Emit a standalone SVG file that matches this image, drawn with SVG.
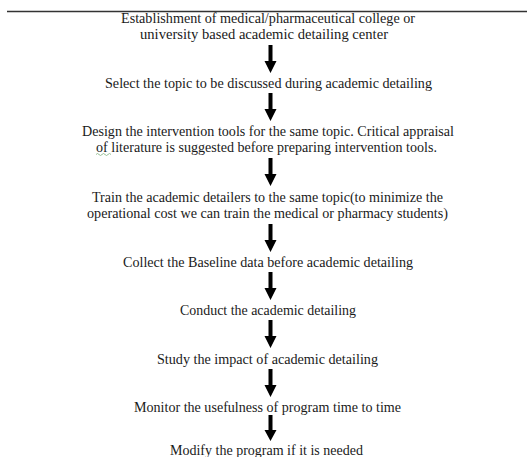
<svg xmlns="http://www.w3.org/2000/svg" width="527" height="457" viewBox="0 0 527 457">
<defs>
<style>
.t{font-family:"Liberation Serif","Times New Roman",serif;font-size:13.6px;fill:#1a1a1a;text-anchor:middle}
.a{fill:#000}
</style>
<path id="arr" d="M-2,0 H2 V16 H6 L0,28 L-6,16 H-2 Z"/>
</defs>
<rect width="527" height="457" fill="#fff"/>
<line x1="7" y1="11.5" x2="527" y2="11.5" stroke="#333" stroke-width="1.3"/>
<g id="n1"><text class="t" x="268" y="22.5" textLength="294" lengthAdjust="spacingAndGlyphs">Establishment of medical/pharmaceutical college or</text><text class="t" x="264" y="38.5" textLength="248" lengthAdjust="spacingAndGlyphs">university based academic detailing center</text></g>
<g id="n2"><text class="t" x="268.5" y="87.5" textLength="327" lengthAdjust="spacingAndGlyphs">Select the topic to be discussed during academic detailing</text></g>
<g id="n3"><text class="t" x="268" y="135.5" textLength="372" lengthAdjust="spacingAndGlyphs">Design the intervention tools for the same topic. Critical appraisal</text><text class="t" x="266.5" y="151.5" textLength="341" lengthAdjust="spacingAndGlyphs">of literature is suggested before preparing intervention tools.</text><path d="M96,154.5 q1.5,-2 3,0 t3,0 t3,0 t3,0 t3,0" fill="none" stroke="#7fb07f" stroke-width="0.8"/></g>
<g id="n4"><text class="t" x="267.5" y="201.5" textLength="351" lengthAdjust="spacingAndGlyphs">Train the academic detailers to the same topic(to minimize the</text><text class="t" x="267.5" y="217.5" textLength="361" lengthAdjust="spacingAndGlyphs">operational cost we can train the medical or pharmacy students)</text></g>
<g id="n5"><text class="t" x="268" y="266.5" textLength="290" lengthAdjust="spacingAndGlyphs">Collect the Baseline data before academic detailing</text></g>
<g id="n6"><text class="t" x="268" y="314.5" textLength="176" lengthAdjust="spacingAndGlyphs">Conduct the academic detailing</text></g>
<g id="n7"><text class="t" x="267.5" y="363.5" textLength="221" lengthAdjust="spacingAndGlyphs">Study the impact of academic detailing</text></g>
<g id="n8"><text class="t" x="267.5" y="411.5" textLength="267" lengthAdjust="spacingAndGlyphs">Monitor the usefulness of program time to time</text></g>
<g id="n9"><text class="t" x="266.5" y="454.5" textLength="193" lengthAdjust="spacingAndGlyphs">Modify the program if it is needed</text></g>
<g id="connectors" class="a">
<use href="#arr" x="270.5" y="45"/>
<use href="#arr" x="270.5" y="93"/>
<use href="#arr" x="270.5" y="158"/>
<use href="#arr" x="270.5" y="224"/>
<use href="#arr" x="270.5" y="272"/>
<use href="#arr" x="270.5" y="320"/>
<use href="#arr" x="270.5" y="369"/>
<use href="#arr" x="270.5" y="415" transform="translate(270.5 415) scale(1 0.93) translate(-270.5 -415)"/>
</g>
</svg>
